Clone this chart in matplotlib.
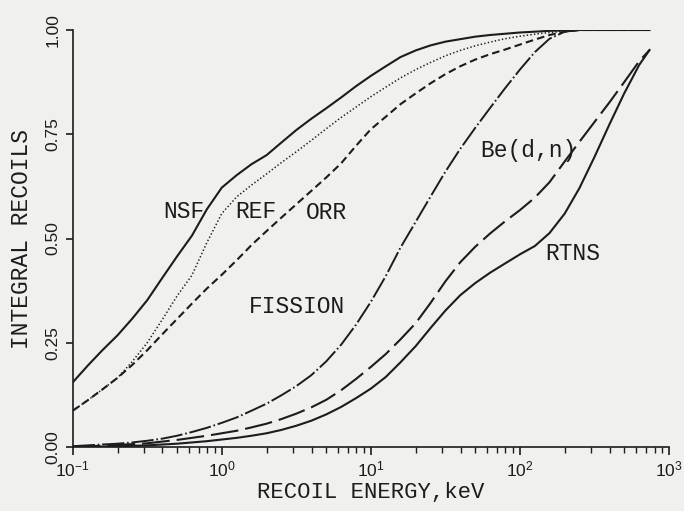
import math
import matplotlib
matplotlib.use("Agg")
import matplotlib.pyplot as plt
from matplotlib.ticker import FixedLocator, LogLocator, FuncFormatter, NullFormatter

# Recoil energy grid (keV), tenth-of-a-decade steps up to the end of the spectra
energy_kev = [0.1, 0.126, 0.158, 0.2, 0.251, 0.316, 0.398, 0.501, 0.631, 0.794,
              1.0, 1.26, 1.58, 2.0, 2.51, 3.16, 3.98, 5.01, 6.31, 7.94,
              10, 12.6, 15.8, 20, 25.1, 31.6, 39.8, 50.1, 63.1, 79.4,
              100, 126, 158, 200, 251, 316, 398, 501, 631, 741]

# Integral recoil fraction for each neutron source
nsf_frac = [0.155, 0.195, 0.232, 0.268, 0.308, 0.352, 0.405, 0.457, 0.507, 0.570,
            0.622, 0.652, 0.678, 0.700, 0.730, 0.760, 0.787, 0.812, 0.838, 0.865,
            0.890, 0.913, 0.935, 0.951, 0.963, 0.972, 0.978, 0.984, 0.988, 0.991,
            0.994, 0.996, 0.998, 0.999, 1.0, 1.0, 1.0, 1.0, 1.0, 1.0]
ref_frac = [0.087, 0.112, 0.138, 0.166, 0.205, 0.250, 0.305, 0.362, 0.412, 0.490,
            0.560, 0.600, 0.628, 0.655, 0.682, 0.708, 0.735, 0.763, 0.790, 0.815,
            0.840, 0.863, 0.885, 0.905, 0.922, 0.938, 0.951, 0.962, 0.971, 0.979,
            0.985, 0.990, 0.994, 0.997, 1.0, 1.0, 1.0, 1.0, 1.0, 1.0]
orr_frac = [0.087, 0.112, 0.138, 0.166, 0.197, 0.232, 0.270, 0.307, 0.344, 0.380,
            0.413, 0.448, 0.484, 0.518, 0.550, 0.582, 0.614, 0.646, 0.680, 0.722,
            0.762, 0.792, 0.822, 0.848, 0.872, 0.894, 0.913, 0.929, 0.942, 0.953,
            0.965, 0.977, 0.988, 0.996, 1.0, 1.0, 1.0, 1.0, 1.0, 1.0]
fission_frac = [0.002, 0.004, 0.006, 0.008, 0.011, 0.015, 0.020, 0.027, 0.036, 0.046,
                0.058, 0.071, 0.087, 0.104, 0.124, 0.146, 0.172, 0.205, 0.245, 0.293,
                0.348, 0.410, 0.478, 0.540, 0.600, 0.660, 0.715, 0.765, 0.813, 0.860,
                0.905, 0.947, 0.979, 0.996, 1.0, 1.0, 1.0, 1.0, 1.0, 1.0]
bedn_frac = [0.001, 0.002, 0.003, 0.005, 0.007, 0.009, 0.013, 0.017, 0.022, 0.027,
             0.033, 0.039, 0.047, 0.056, 0.067, 0.080, 0.095, 0.113, 0.136, 0.163,
             0.192, 0.223, 0.258, 0.297, 0.345, 0.397, 0.443, 0.480, 0.512, 0.541,
             0.568, 0.598, 0.635, 0.685, 0.732, 0.779, 0.826, 0.875, 0.925, 0.952]
rtns_frac = [0.000, 0.001, 0.001, 0.002, 0.003, 0.004, 0.006, 0.008, 0.011, 0.014,
             0.018, 0.022, 0.027, 0.033, 0.041, 0.051, 0.063, 0.078, 0.096, 0.117,
             0.140, 0.168, 0.203, 0.242, 0.285, 0.327, 0.364, 0.393, 0.418, 0.440,
             0.462, 0.482, 0.513, 0.560, 0.621, 0.695, 0.773, 0.848, 0.916, 0.952]

y_ticks = [0.0, 0.25, 0.5, 0.75, 1.0]
y_tick_labels = ["0.00", "0.25", "0.50", "0.75", "1.00"]
x_ticks = [0.1, 1, 10, 100, 1000]

plt.rcParams["lines.scale_dashes"] = False
ink = "#1c1c1c"
paper = "#f0f0ee"
label_font = "Liberation Mono"
tick_font = "Liberation Sans"

fig = plt.figure(figsize=(6.84, 5.11), dpi=100, facecolor=paper)
ax = fig.add_axes([0.1063, 0.1252, 0.8717, 0.8161], facecolor=paper)

ax.plot(energy_kev, nsf_frac, color=ink, lw=1.5, linestyle="-")
ax.plot(energy_kev, ref_frac, color=ink, lw=1.1, linestyle=(0, (1.0, 1.6)))
ax.plot(energy_kev, orr_frac, color=ink, lw=1.5, linestyle=(0, (5.5, 3.0)))
ax.plot(energy_kev, fission_frac, color=ink, lw=1.4, linestyle=(0, (16, 2.0, 1.2, 2.0)))
ax.plot(energy_kev, bedn_frac, color=ink, lw=1.5, linestyle=(0, (20, 5)))
ax.plot(energy_kev, rtns_frac, color=ink, lw=1.5, linestyle="-")

ax.set_xscale("log")
ax.set_xlim(0.1, 1000)
ax.set_ylim(0.0, 1.0)

for s in ("top", "right"):
    ax.spines[s].set_visible(False)
for s in ("left", "bottom"):
    ax.spines[s].set_color(ink)
    ax.spines[s].set_linewidth(1.2)

ax.xaxis.set_major_locator(FixedLocator(x_ticks))
ax.xaxis.set_major_formatter(FuncFormatter(
    lambda v, p: r"$\mathregular{10^{%d}}$" % round(math.log10(v))))
ax.xaxis.set_minor_locator(LogLocator(base=10, subs=range(2, 10), numticks=20))
ax.xaxis.set_minor_formatter(NullFormatter())
ax.yaxis.set_major_locator(FixedLocator(y_ticks))
ax.set_yticklabels(y_tick_labels, rotation=90, va="center", fontfamily=tick_font,
                   fontsize=12.5, color=ink)
for lab in ax.get_xticklabels():
    lab.set_fontfamily(tick_font)

ax.tick_params(axis="x", which="major", direction="out", length=6, width=1.2,
               color=ink, pad=3, labelsize=12.5, labelcolor=ink)
ax.tick_params(axis="x", which="minor", direction="out", length=4, width=1.0, color=ink)
ax.tick_params(axis="y", which="major", direction="out", length=5, width=1.2,
               color=ink, pad=4)

ax.set_xlabel("RECOIL ENERGY,keV", fontfamily=label_font, fontsize=16, color=ink)
ax.set_ylabel("INTEGRAL RECOILS", fontfamily=label_font, fontsize=16.5, color=ink)
ax.xaxis.set_label_coords(0.5, -0.085)
ax.yaxis.set_label_coords(-0.066, 0.5)

label_style = dict(fontfamily=label_font, fontsize=16.5, color=ink, ha="center", va="center")
ax.text(0.557, 0.564, "NSF", **label_style)
ax.text(1.69, 0.564, "REF", **label_style)
ax.text(5.04, 0.562, "ORR", **label_style)
ax.text(3.2, 0.336, "FISSION", **label_style)
ax.text(114, 0.712, "Be(d,n)", **label_style)
ax.text(225, 0.464, "RTNS", **label_style)

fig.savefig("out.png", dpi=100, facecolor=paper)
